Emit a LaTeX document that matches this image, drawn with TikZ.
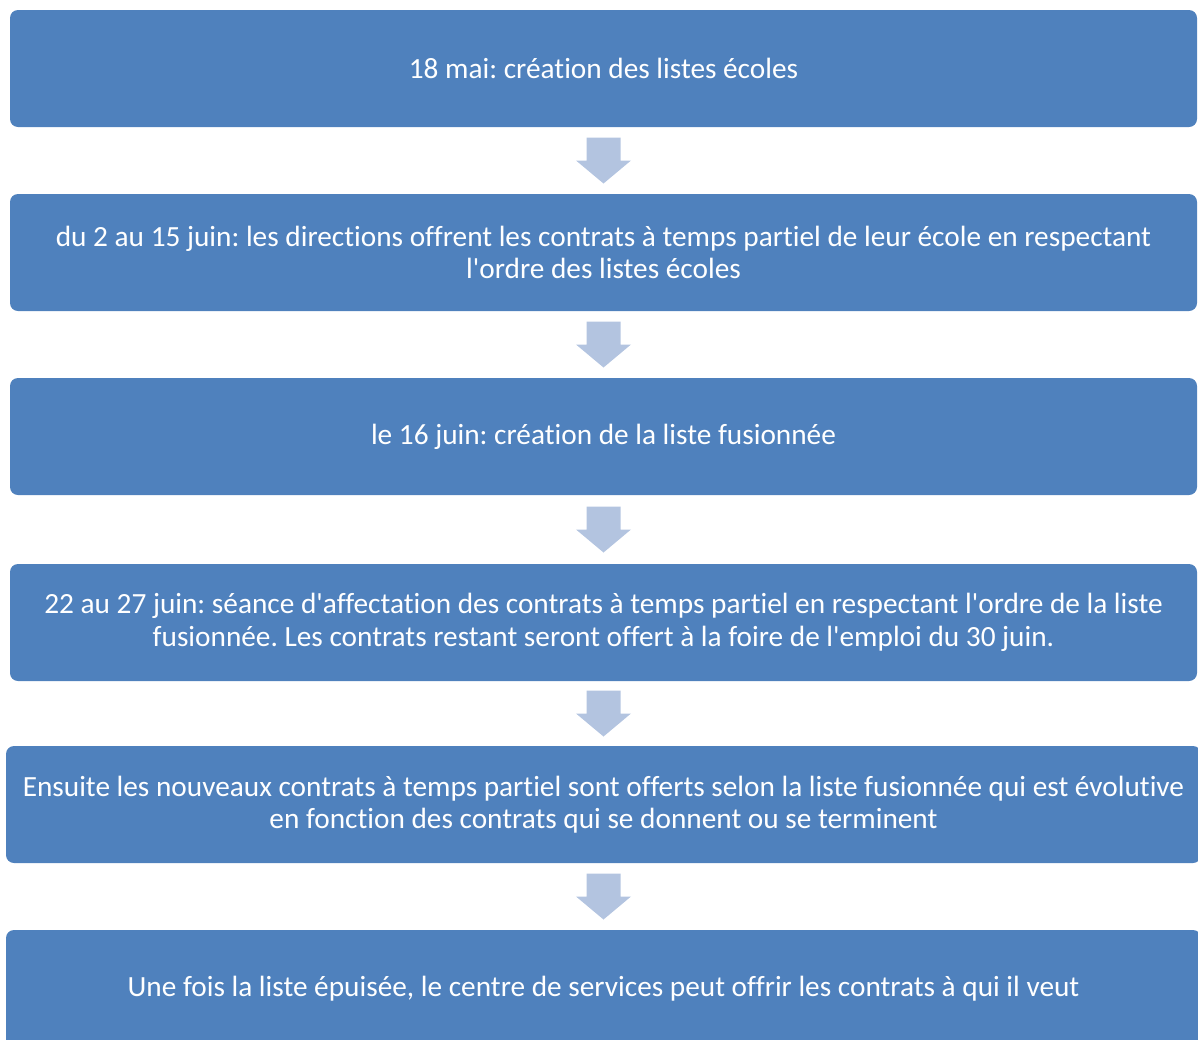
\documentclass[tikz,border=0pt]{standalone}
\usepackage{fontspec}
\setmainfont{Carlito}[Ligatures={TeXOff,NoCommon}]
\usetikzlibrary{calc}
\frenchspacing

\definecolor{boxblue}{HTML}{4F81BD}
\definecolor{arrowblue}{HTML}{B3C4E0}

\tikzset{
  stepbox/.style={fill=boxblue, rounded corners=8pt, text=white, align=center,
    inner sep=0pt, minimum height=117pt, font=\fontsize{29.3}{32.5}\selectfont},
  flowarrow/.style={fill=arrowblue}
}

\begin{document}
\begin{tikzpicture}[x=1pt, y=1pt]
        \useasboundingbox (0,0) rectangle (1198,-1039);

        \node[stepbox, minimum width=1187pt] (b1) at (603.5,-68.5) {18 mai: création des listes écoles};
        \node[stepbox, minimum width=1187pt] (b2) at (603.5,-252.5) {du 2 au 15 juin: les directions offrent les contrats à temps partiel de leur école en respectant\\l'ordre des listes écoles};
        \node[stepbox, minimum width=1187pt] (b3) at (603.5,-436.5) {le 16 juin: création de la liste fusionnée};
        \node[stepbox, minimum width=1187pt] (b4) at (603.5,-622.5) {22 au 27 juin: séance d'affectation des contrats à temps partiel en respectant l'ordre de la liste\\fusionnée. Les contrats restant seront offert à la foire de l'emploi du 30 juin.};
        \node[stepbox, minimum width=1195pt] (b5) at (603.5,-804.5) {Ensuite les nouveaux contrats à temps partiel sont offerts selon la liste fusionnée qui est évolutive\\en fonction des contrats qui se donnent ou se terminent};
        \node[stepbox, minimum width=1195pt] (b6) at (603.5,-988.5) {Une fois la liste épuisée, le centre de services peut offrir les contrats à qui il veut};

        % block arrows between the steps
        \foreach \i [evaluate=\i as \j using int(\i+1)] in {1,...,5}
          \fill[flowarrow] ($(b\i.south)!0.5!(b\j.north)$)
            +(-17,23) -- +(17,23) -- +(17,0) -- +(27.5,0) -- +(0,-23)
            -- +(-27.5,0) -- +(-17,0) -- cycle;
      \end{tikzpicture}
\end{document}
